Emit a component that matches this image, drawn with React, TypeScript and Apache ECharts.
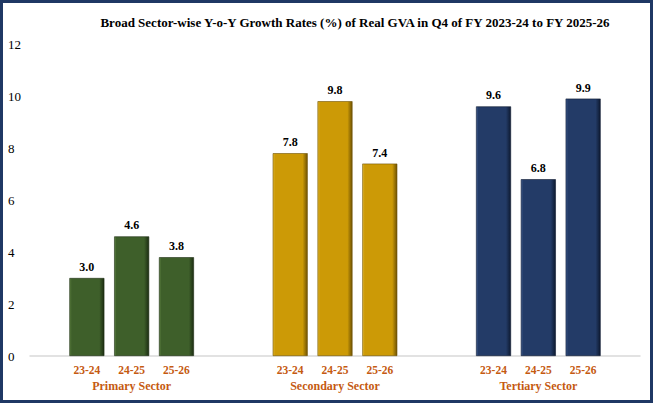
import React, { useEffect, useRef } from "react";
import * as echarts from "echarts";

const sectors = ["Primary Sector", "Secondary Sector", "Tertiary Sector"];
const years = ["23-24", "24-25", "25-26"];
// Growth rate (%) per year, one entry per sector
const growth2324 = [3.0, 7.8, 9.6];
const growth2425 = [4.6, 9.8, 6.8];
const growth2526 = [3.8, 7.4, 9.9];
const yTicks = [0, 2, 4, 6, 8, 10, 12];

const sectorColors = ["#3E5F2A", "#CC9A06", "#233B67"];
const sectorDark = ["#1C2D12", "#6E5203", "#0D1930"];
const sectorLight = ["#5C8040", "#E2B833", "#3D5A8C"];

const FONT = "Liberation Serif";

function barFill(i: number) {
  return new echarts.graphic.LinearGradient(0, 0, 1, 0, [
    { offset: 0, color: sectorLight[i] },
    { offset: 0.06, color: sectorColors[i] },
    { offset: 0.86, color: sectorColors[i] },
    { offset: 1, color: sectorDark[i] },
  ]);
}

export default function App() {
  const ref = useRef<HTMLDivElement>(null);

  useEffect(() => {
    if (!ref.current) return;
    const chart = echarts.init(ref.current, null, { renderer: "svg" });
    const valueSets = [growth2324, growth2425, growth2526];

    const series: any[] = [];
    years.forEach((yr, k) => {
      // zero-height base bar carrying the year label under each column
      series.push({
        type: "bar",
        name: yr,
        stack: "s" + k,
        barWidth: 35,
        barGap: "28%",
        data: sectors.map(() => 0),
        itemStyle: { color: "transparent" },
        label: {
          show: true,
          position: "bottom",
          distance: 8,
          formatter: () => yr,
          color: "#C55A11",
          fontFamily: FONT,
          fontWeight: "bold",
          fontSize: 11.5,
        },
        silent: true,
      });
      series.push({
        type: "bar",
        name: yr + " value",
        stack: "s" + k,
        barWidth: 35,
        barGap: "28%",
        data: valueSets[k].map((v, i) => ({
          value: v,
          itemStyle: {
            color: barFill(i),
            borderColor: sectorDark[i],
            borderWidth: 0.6,
          },
        })),
        label: {
          show: true,
          position: "top",
          distance: 5,
          formatter: (p: any) => Number(p.value).toFixed(1),
          color: "#000000",
          fontFamily: FONT,
          fontWeight: "bold",
          fontSize: 12,
        },
      });
    });

    chart.setOption({
      animation: false,
      backgroundColor: "#FFFFFF",
      textStyle: { fontFamily: FONT },
      title: {
        text: "Broad Sector-wise Y-o-Y Growth Rates (%) of Real GVA in Q4 of FY 2023-24 to FY 2025-26",
        left: 350,
        textAlign: "center",
        top: 11,
        textStyle: {
          fontFamily: FONT,
          fontWeight: "bold",
          fontSize: 13,
          color: "#000000",
        },
      },
      grid: { left: 30, right: 13, top: 44, bottom: 47, containLabel: false },
      xAxis: {
        type: "category",
        data: sectors,
        axisTick: { show: false },
        axisLine: { lineStyle: { color: "#D9D9D9", width: 1.5 } },
        axisLabel: {
          margin: 24,
          color: "#C55A11",
          fontFamily: FONT,
          fontWeight: "bold",
          fontSize: 12,
        },
      },
      yAxis: {
        type: "value",
        min: yTicks[0],
        max: yTicks[yTicks.length - 1],
        interval: 2,
        splitLine: { show: false },
        axisLine: { show: false },
        axisTick: { show: false },
        axisLabel: {
          align: "left",
          margin: 22,
          color: "#000000",
          fontFamily: FONT,
          fontSize: 13,
        },
      },
      graphic: [
        {
          type: "rect",
          shape: { x: 1.5, y: 1.5, width: 650, height: 400 },
          style: { fill: "none", stroke: "#1F3864", lineWidth: 3 },
          silent: true,
        },
      ],
      series,
    });

    return () => chart.dispose();
  }, []);

  return (
    <div
      ref={ref}
      style={{ position: "fixed", left: 0, top: 0, width: 653, height: 403 }}
    />
  );
}
